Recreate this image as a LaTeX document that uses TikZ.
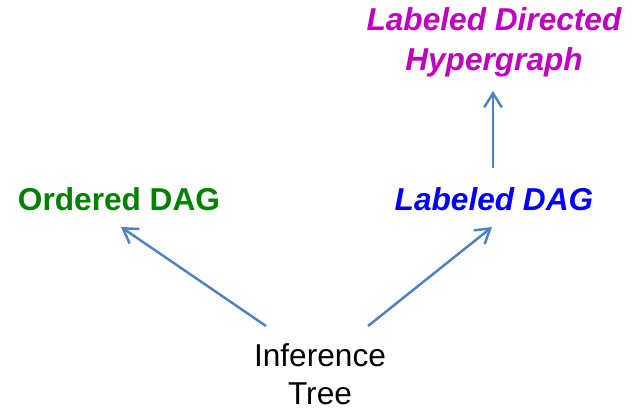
\documentclass[tikz,border=0pt]{standalone}
\usepackage{fontspec}
\setmainfont{Liberation Sans}
\usetikzlibrary{arrows.meta}

\definecolor{linkblue}{RGB}{79,129,189}
\definecolor{ordgreen}{RGB}{0,128,0}
\definecolor{hypmagenta}{RGB}{190,0,190}

\begin{document}
\begin{tikzpicture}[x=0.02cm, y=-0.02cm,
    every node/.style={font=\fontsize{18}{22.5}\selectfont, inner sep=0pt, align=center},
    link/.style={-{Straight Barb[length=8pt,width=10pt]}, line width=1.4pt, draw=linkblue}]
				\useasboundingbox (0,0) rectangle (634,409);

				% Nodes
				\node[font=\fontsize{18}{22.8}\selectfont\bfseries\itshape, text=hypmagenta] (hyper) at (494,42) {Labeled Directed\\Hypergraph};
				\node[font=\fontsize{18}{22}\selectfont\bfseries, text=ordgreen] (odag) at (119,199) {Ordered DAG};
				\node[font=\fontsize{18}{22}\selectfont\bfseries\itshape, text=blue] (ldag) at (494,199) {Labeled DAG};
				\node[font=\fontsize{18}{21.6}\selectfont] (tree) at (320,374) {Inference\\Tree};

				% Arrow ends
				\coordinate (tl) at (266,326);
				\coordinate (tr) at (368,326);
				\coordinate (ol) at (121,227);
				\coordinate (lr) at (492,227);
				\coordinate (lt) at (493,168);
				\coordinate (ht) at (493,91);

				% Links
				\draw[link] (tl) -- (ol);
				\draw[link] (tr) -- (lr);
				\draw[link] (lt) -- (ht);
			\end{tikzpicture}
\end{document}
